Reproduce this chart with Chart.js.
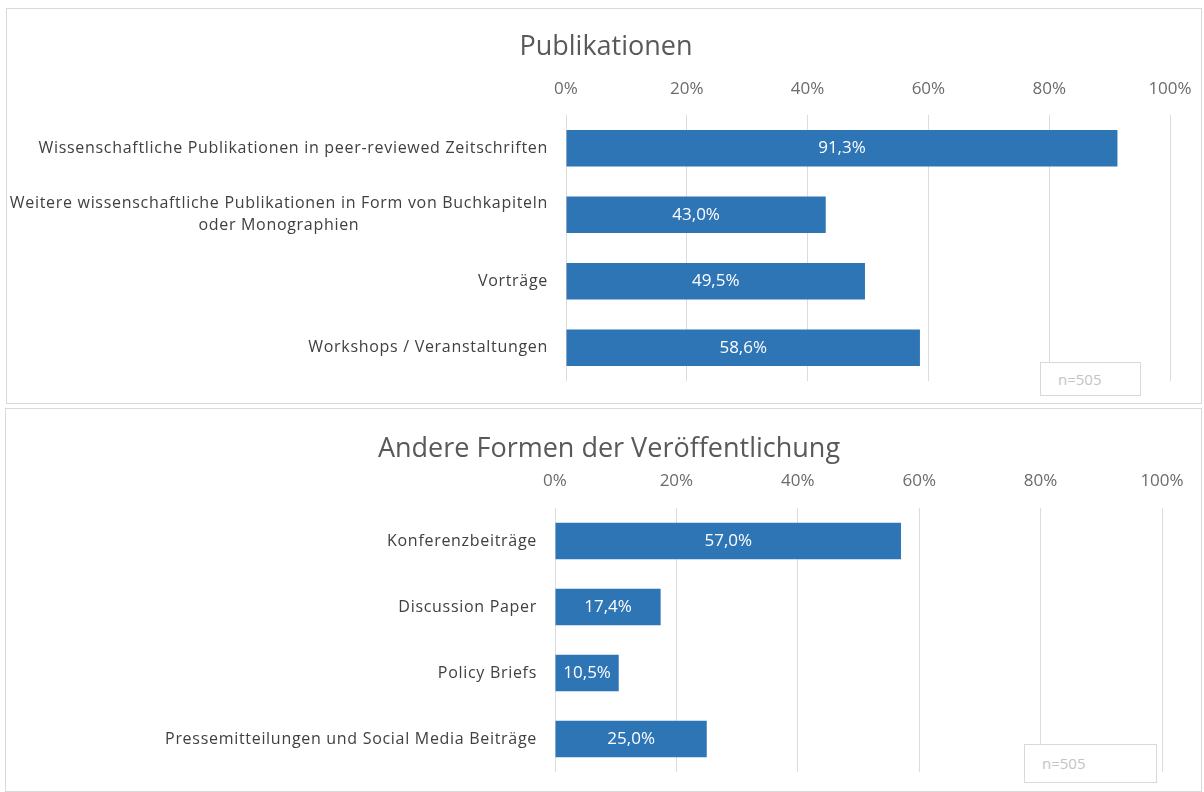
<!DOCTYPE html>
<html lang="de">
<head>
<meta charset="UTF-8">
<title>Publikationen</title>
<script src="https://cdn.jsdelivr.net/npm/chart.js"></script>
<style>
  html, body { margin: 0; padding: 0; background: #fff; }
  body { width: 1204px; height: 792px; position: relative; overflow: hidden; font-family: 'Open Sans', sans-serif; }
  .panel { position: absolute; box-sizing: border-box; border: 1px solid #d9d9d9; background: #fff; }
  .panel canvas { display: block; }
  .nbox { position: absolute; box-sizing: border-box; border: 1px solid #d9d9d9; background: #fff;
          color: #c4c4c4; font-size: 15px; line-height: 1; padding-left: 17px; display: flex; align-items: center; }
</style>
</head>
<body>
<div class="panel" style="left:6px; top:8px; width:1196px; height:396px;">
  <canvas id="chart1" width="1194" height="394"></canvas>
</div>
<div class="panel" style="left:5px; top:408px; width:1197px; height:384px;">
  <canvas id="chart2" width="1195" height="382"></canvas>
</div>
<div class="nbox" style="left:1040px; top:362px; width:101px; height:34px;">n=505</div>
<div class="nbox" style="left:1024px; top:744px; width:133px; height:39px;">n=505</div>

<script>
// Publikationen
const pubCategories = [
  'Wissenschaftliche Publikationen in peer-reviewed Zeitschriften',
  ['Weitere wissenschaftliche Publikationen in Form von Buchkapiteln', 'oder Monographien'],
  'Vorträge',
  'Workshops / Veranstaltungen'
];
const pubValues = [91.3, 43.0, 49.5, 58.6];

// Andere Formen der Veröffentlichung
const otherCategories = [
  'Konferenzbeiträge',
  'Discussion Paper',
  'Policy Briefs',
  'Pressemitteilungen und Social Media Beiträge'
];
const otherValues = [57.0, 17.4, 10.5, 25.0];

const percentTicks = [0, 20, 40, 60, 80, 100];

const BAR_COLOR = '#2e75b6';
const FONT = "'Open Sans', sans-serif";

const fmt = v => v.toFixed(1).replace('.', ',') + '%';

// value labels inside the bars
const barValueLabels = {
  id: 'barValueLabels',
  afterDatasetsDraw(chart) {
    const ctx = chart.ctx;
    const meta = chart.getDatasetMeta(0);
    const data = chart.data.datasets[0].data;
    ctx.save();
    ctx.fillStyle = '#ffffff';
    ctx.font = '17px ' + FONT;
    ctx.textAlign = 'center';
    ctx.textBaseline = 'middle';
    meta.data.forEach((bar, i) => {
      const p = bar.getProps(['x', 'y', 'base'], true);
      ctx.fillText(fmt(data[i]), (p.x + p.base) / 2, p.y);
    });
    ctx.restore();
  }
};

// category labels; wrapped lines are centred under the longest line
const categoryLabels = {
  id: 'categoryLabels',
  afterDraw(chart) {
    const ctx = chart.ctx;
    const y = chart.scales.y;
    const right = chart.chartArea.left - 18;
    const lh = 22;
    ctx.save();
    ctx.fillStyle = '#404040';
    ctx.font = '16px ' + FONT;
    ctx.letterSpacing = '0.7px';
    ctx.textBaseline = 'middle';
    chart.data.labels.forEach((lab, i) => {
      const cy = y.getPixelForTick(i);
      if (Array.isArray(lab)) {
        const w = Math.max(...lab.map(s => ctx.measureText(s).width));
        ctx.textAlign = 'center';
        lab.forEach((s, k) => {
          ctx.fillText(s, right - w / 2, cy + (k - (lab.length - 1) / 2) * lh);
        });
      } else {
        ctx.textAlign = 'right';
        ctx.fillText(lab, right, cy);
      }
    });
    ctx.restore();
  }
};

function makeChart(id, title, labels, values, geo) {
  return new Chart(document.getElementById(id), {
    type: 'bar',
    data: {
      labels: labels,
      datasets: [{
        data: values,
        backgroundColor: BAR_COLOR,
        borderWidth: 0,
        barPercentage: 1,
        categoryPercentage: 0.55
      }]
    },
    options: {
      indexAxis: 'y',
      responsive: false,
      animation: false,
      layout: { padding: { left: geo.padLeft, right: geo.padRight, top: 0, bottom: geo.bottom } },
      plugins: {
        legend: { display: false },
        tooltip: { enabled: false },
        title: {
          display: true,
          text: title,
          color: '#595959',
          font: { family: FONT, size: 27, weight: 'normal' },
          padding: { top: geo.titleTop, bottom: 6 }
        }
      },
      scales: {
        x: {
          position: 'top',
          min: 0,
          max: 100,
          afterBuildTicks: s => { s.ticks = percentTicks.map(v => ({ value: v })); },
          afterFit: s => { s.height = geo.axisHeight; },
          ticks: {
            color: '#6b6b6b',
            font: { family: FONT, size: 17 },
            padding: 0,
            maxRotation: 0,
            callback: v => v + '%'
          },
          // invisible tick marks keep the labels clear of the bars
          grid: { color: '#dcdcdc', drawTicks: true, tickLength: geo.tickGap, tickColor: 'rgba(0,0,0,0)' },
          border: { display: false }
        },
        y: {
          afterFit: s => { s.width = geo.axisWidth; },
          ticks: { display: false },
          grid: { display: false },
          border: { display: false }
        }
      }
    },
    plugins: [barValueLabels, categoryLabels]
  });
}

makeChart('chart1', 'Publikationen', pubCategories, pubValues,
  { padLeft: 35, padRight: 31, axisWidth: 524, bottom: 22, titleTop: 22, axisHeight: 45.6, tickGap: 16 });
makeChart('chart2', 'Andere Formen der Veröffentlichung', otherCategories, otherValues,
  { padLeft: 50, padRight: 39, axisWidth: 499, bottom: 19, titleTop: 24, axisHeight: 36.6, tickGap: 17 });
</script>
</body>
</html>
